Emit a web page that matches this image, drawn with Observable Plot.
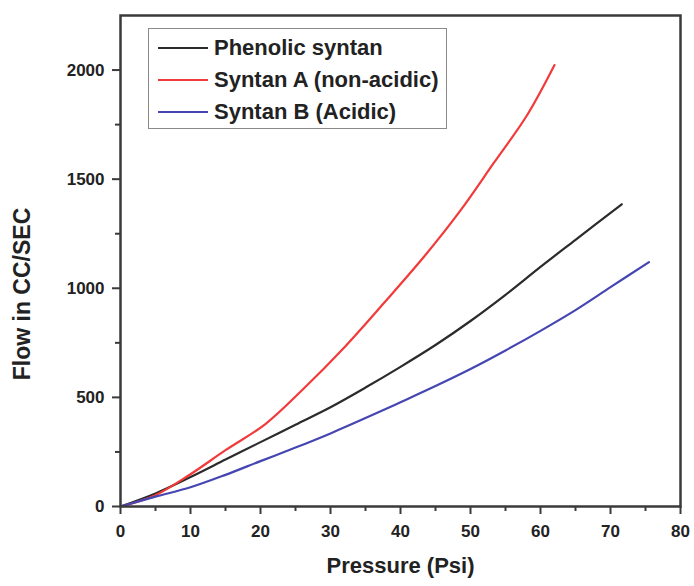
<!DOCTYPE html>
<html>
<head>
<meta charset="utf-8">
<script src="https://cdn.jsdelivr.net/npm/d3@7"></script>
<script src="https://cdn.jsdelivr.net/npm/@observablehq/plot@0.6"></script>
<style>
  html, body { margin: 0; padding: 0; background: #fff; }
  #wrap { position: relative; width: 694px; height: 586px; overflow: hidden; }
  #legend {
    position: absolute; left: 148px; top: 28px; width: 299px; height: 101px;
    box-sizing: border-box; border: 1.5px solid #8a8a8a; background: #fff;
    padding-top: 3px;
    font-family: "Liberation Sans", Arial, sans-serif; font-weight: bold; font-size: 22px; color: #222;
  }
  .row { height: 32px; display: flex; align-items: center; }
  .sw { width: 50px; height: 0; border-top: 2.5px solid; margin-left: 9px; margin-right: 6px; }
</style>
</head>
<body>
<div id="wrap"><div id="legend"></div></div>
<script>
// Series names and colours
const seriesNames = ["Phenolic syntan", "Syntan A (non-acidic)", "Syntan B (Acidic)"];
const seriesColors = ["#2b2b2b", "#f23a3a", "#4646b2"];

// Phenolic syntan
const pressurePhenolic = [0, 5, 10, 15, 20, 25, 30, 35, 40, 45, 50, 55, 60, 65, 71.6];
const flowPhenolic     = [0, 60, 135, 215, 295, 375, 455, 545, 640, 740, 850, 970, 1098, 1222, 1385];

// Syntan A (non-acidic)
const pressureA = [0, 5, 10, 15, 20.7, 26, 32, 37.6, 43.5, 48.6, 53.3, 58.1, 62];
const flowA     = [0, 52, 148, 258, 378, 535, 730, 931, 1150, 1358, 1573, 1794, 2023];

// Syntan B (Acidic)
const pressureB = [0, 5, 10, 15, 20, 25, 30, 35, 40, 45, 50, 55, 60, 65, 70, 75.5];
const flowB     = [0, 45, 88, 145, 208, 270, 335, 405, 478, 552, 630, 715, 805, 900, 1005, 1120];

// Ticks
const xMajor = [0, 10, 20, 30, 40, 50, 60, 70, 80];
const xMinor = [5, 15, 25, 35, 45, 55, 65, 75];
const yMajor = [0, 500, 1000, 1500, 2000];
const yMinor = [250, 750, 1250, 1750];

const xTitle = "Pressure (Psi)";
const yTitle = "Flow in CC/SEC";

const toRows = (xs, ys, s) => xs.map((x, i) => ({x, y: ys[i], s}));
const data = [
  ...toRows(pressurePhenolic, flowPhenolic, seriesNames[0]),
  ...toRows(pressureA, flowA, seriesNames[1]),
  ...toRows(pressureB, flowB, seriesNames[2])
];

const axisColor = "#3a3a3a";
const chart = Plot.plot({
  width: 694,
  height: 586,
  marginLeft: 120,
  marginRight: 14,
  marginTop: 15,
  marginBottom: 80,
  style: {fontFamily: "'Liberation Sans', Arial, sans-serif", fontWeight: "bold", fontSize: "16px", color: "#222", background: "#fff", overflow: "visible"},
  x: {domain: [0, 80]},
  y: {domain: [0, 2250]},
  color: {domain: seriesNames, range: seriesColors},
  marks: [
    Plot.axisX({ticks: xMajor, tickSize: 8, tickPadding: 10, tickFormat: d => String(d), label: null, stroke: axisColor, strokeWidth: 2, fontSize: 17, fontWeight: "bold"}),
    Plot.axisX({ticks: xMinor, tickSize: 5, text: null, label: null, stroke: axisColor, strokeWidth: 2}),
    Plot.axisY({ticks: yMajor, tickSize: 8, tickPadding: 8, tickFormat: d => String(d), label: null, stroke: axisColor, strokeWidth: 2, fontSize: 17, fontWeight: "bold"}),
    Plot.axisY({ticks: yMinor, tickSize: 5, text: null, label: null, stroke: axisColor, strokeWidth: 2}),
    Plot.line(data, {x: "x", y: "y", z: "s", stroke: "s", strokeWidth: 2.2, curve: "catmull-rom"}),
    Plot.frame({stroke: axisColor, strokeWidth: 2.5}),
    Plot.text([xTitle], {frameAnchor: "bottom", dy: 66, fontSize: 22, fontWeight: "bold", fill: "#222"}),
    Plot.text([yTitle], {frameAnchor: "left", textAnchor: "middle", dx: -98, dy: 33, rotate: -90, fontSize: 23, fontWeight: "bold", fill: "#222"})
  ]
});
document.getElementById("wrap").prepend(chart);

// legend
const legend = d3.select("#legend");
seriesNames.forEach((name, i) => {
  const row = legend.append("div").attr("class", "row");
  row.append("div").attr("class", "sw").style("border-top-color", seriesColors[i]);
  row.append("span").text(name);
});
</script>
</body>
</html>
